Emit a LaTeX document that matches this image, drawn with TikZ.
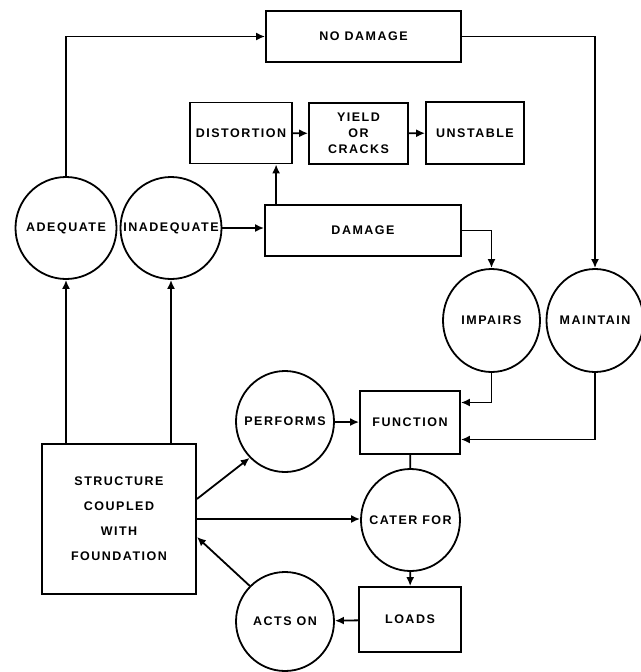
\documentclass[tikz,border=0pt]{standalone}
\usepackage{fontspec}
\newfontfamily\chartfont[LetterSpace=12]{Liberation Sans}
\usetikzlibrary{arrows.meta,shapes}

\begin{document}
\begin{tikzpicture}[x=1pt,y=-1pt,line width=1.8pt,
    every node/.style={font=\chartfont\bfseries\fontsize{12.5}{16}\selectfont,align=center,inner sep=0pt},
    box/.style={draw,rectangle},
    bubble/.style={draw,ellipse,minimum width=98pt,minimum height=102pt},
    >={Latex[length=9pt,width=8pt]}]

  \useasboundingbox (0,0) rectangle (640,672);

  % top row
  \node[box,minimum width=195pt,minimum height=51pt] (nodamage) at (363.5,36.5) {NO DAMAGE};
  \node[box,minimum width=102pt,minimum height=61pt] (distortion) at (241,133) {DISTORTION};
  \node[box,minimum width=99pt,minimum height=61pt] (yield) at (358.5,133.5) {YIELD\\OR\\CRACKS};
  \node[box,minimum width=98pt,minimum height=62pt] (unstable) at (475,133) {UNSTABLE};
  \node[box,minimum width=196pt,minimum height=51pt] (damage) at (363,230.5) {DAMAGE};

  \node[bubble,minimum width=101pt,label=center:ADEQUATE] (adequate) at (66,228) {};
  \node[bubble,minimum width=101pt,label=center:INADEQUATE] (inadequate) at (171,228) {};
  \node[bubble,minimum width=97pt,minimum height=103pt,label=center:IMPAIRS] (impairs) at (491.5,320.5) {};
  \node[bubble,minimum width=97pt,minimum height=103pt,label=center:MAINTAIN] (maintain) at (595,320.5) {};

  % bottom part
  \node[bubble,minimum height=101pt,label=center:PERFORMS] (performs) at (285,421.5) {};
  \node[box,minimum width=100pt,minimum height=63pt] (function) at (410,422.5) {FUNCTION};
  \node[box,minimum width=154pt,minimum height=150pt] (structure) at (119,519)
    {STRUCTURE\\[9pt]COUPLED\\[9pt]WITH\\[9pt]FOUNDATION};
  \node[bubble,minimum width=99pt,label=center:CATER FOR] (caterfor) at (410.5,520) {};
  \node[box,minimum width=102pt,minimum height=65pt] (loads) at (410,619.5) {LOADS};
  \node[bubble,minimum height=99pt,label=center:ACTS ON] (actson) at (285,621.5) {};

  \draw[->] (adequate.north) |- (nodamage.west);
  \draw[->] (nodamage.east) -| (maintain.north);
  \draw[->] (inadequate.east) -- (inadequate.east -| damage.west);
  \draw[->] ([xshift=12pt]damage.north west) -- ([xshift=12pt]damage.north west |- distortion.south);
  \draw[->] (distortion) -- (yield);
  \draw[->] (yield) -- (unstable);
  \draw[->] (damage.east) -| (impairs.north);
  \draw[->] (impairs.south) |- ([yshift=20pt]function.east);
  \draw[->] (maintain.south) |- ([yshift=-17pt]function.east);
  \draw[->] (performs) -- (function);
  \draw (function) -- (caterfor);
  \draw[->] (caterfor) -- (loads);
  \draw[->] (loads) -- (actson);
  \draw[->] (actson.north west) -- ([yshift=-18pt]structure.east);
  \draw[->] ([yshift=20pt]structure.east) -- (performs.south west);
  \draw[->] (structure.east) -- (structure.east -| caterfor.west);
  \draw[->] (structure.north -| adequate.south) -- (adequate.south);
  \draw[->] (structure.north -| inadequate.south) -- (inadequate.south);
\end{tikzpicture}
\end{document}
